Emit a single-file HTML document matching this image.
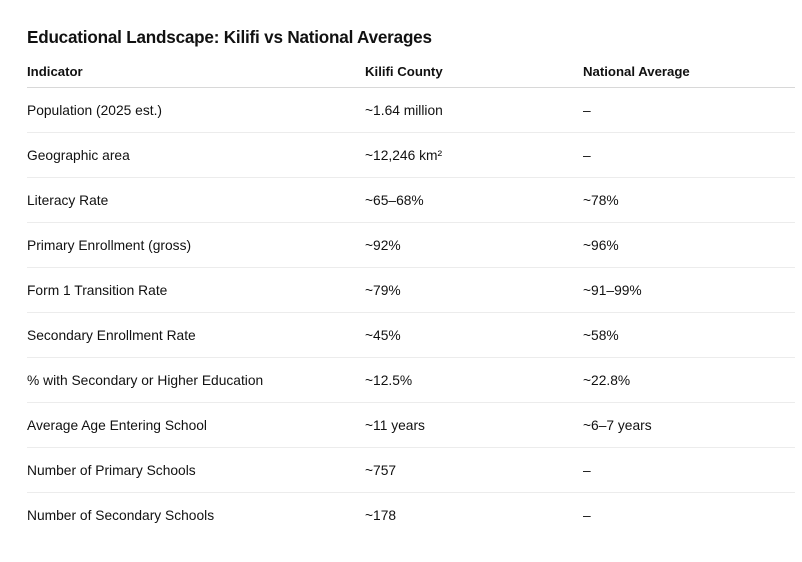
<!DOCTYPE html>
<html><head><meta charset="utf-8"><style>
body{margin:0;width:802px;height:562px;background:#fff;font-family:"Liberation Sans",sans-serif;color:#111;position:relative;overflow:hidden}
.t{position:absolute;left:27px;top:28px;font-size:17.1px;font-weight:bold;letter-spacing:-0.2px}
.c{position:absolute;font-size:13.8px;white-space:nowrap;line-height:16px}
.h{font-weight:bold;font-size:13.2px}
.l{position:absolute;left:27px;width:768px;height:1px;background:#ececec}
</style></head><body>
<div class="t">Educational Landscape: Kilifi vs National Averages</div>
<div class="c h" style="left:27px;top:64px">Indicator</div>
<div class="c h" style="left:365px;top:64px">Kilifi County</div>
<div class="c h" style="left:583px;top:64px">National Average</div>
<div class="l" style="top:87px;background:#d8d8d8"></div>
<div id="rows"></div>
<script>
var d=[["Population (2025 est.)","~1.64 million","–"],["Geographic area","~12,246 km²","–"],["Literacy Rate","~65–68%","~78%"],["Primary Enrollment (gross)","~92%","~96%"],["Form 1 Transition Rate","~79%","~91–99%"],["Secondary Enrollment Rate","~45%","~58%"],["% with Secondary or Higher Education","~12.5%","~22.8%"],["Average Age Entering School","~11 years","~6–7 years"],["Number of Primary Schools","~757","–"],["Number of Secondary Schools","~178","–"]];
var h="";
d.forEach(function(r,i){var y=103+i*45;
h+='<div class="c" style="left:27px;top:'+y+'px">'+r[0]+'</div><div class="c" style="left:365px;top:'+y+'px">'+r[1]+'</div><div class="c" style="left:583px;top:'+y+'px">'+r[2]+'</div>';
if(i<9)h+='<div class="l" style="top:'+(132+i*45)+'px"></div>';});
document.getElementById("rows").innerHTML=h;
</script>
</body></html>
